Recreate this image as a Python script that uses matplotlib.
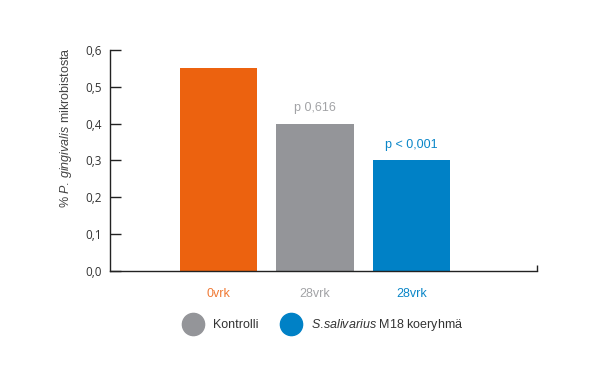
import matplotlib
matplotlib.use("Agg")
import matplotlib.pyplot as plt
from matplotlib.lines import Line2D

plt.rcParams['font.family'] = ['Liberation Sans', 'DejaVu Sans']
plt.rcParams['mathtext.fontset'] = 'custom'
plt.rcParams['mathtext.rm'] = 'Liberation Sans'
plt.rcParams['mathtext.it'] = 'Liberation Sans:italic'

categories = ["0vrk", "28vrk", "28vrk"]
values = [0.55, 0.40, 0.30]
bar_colors = ["#EC620F", "#949599", "#0081C6"]
label_colors = ["#F07A35", "#A2A3A6", "#0A86C8"]
p_labels = [None, "p 0,616", "p < 0,001"]
yticks = [0.0, 0.1, 0.2, 0.3, 0.4, 0.5, 0.6]
ytick_labels = ["0,0", "0,1", "0,2", "0,3", "0,4", "0,5", "0,6"]
legend_labels = ["Kontrolli", r"$\mathit{S.\!salivarius}$ M18 koeryhmä"]
legend_colors = ["#949599", "#0081C6"]

fig = plt.figure(figsize=(6, 3.78), dpi=100)
ax = fig.add_axes([0.1833, 0.2831, 0.7117, 0.5847])

x = list(range(len(values)))
ax.bar(x, values, width=0.8, color=bar_colors)
ax.set_xlim(-1.124, 3.30)
ax.set_ylim(0, 0.6)

for i, p in enumerate(p_labels):
    if p:
        ax.text(x[i], values[i] + 0.025, p, ha='center', va='bottom',
                fontsize=9, color=label_colors[i])

ax.set_yticks(yticks)
ax.set_yticklabels(ytick_labels, fontsize=8.5, color='#333333',
                   family=['Open Sans', 'DejaVu Sans'])
ax.tick_params(axis='y', direction='in', length=8, width=1, color='#222222', pad=6)
ax.set_xticks(x)
ax.set_xticklabels(categories, fontsize=9)
for lbl, c in zip(ax.get_xticklabels(), label_colors):
    lbl.set_color(c)
ax.tick_params(axis='x', length=0, pad=12)
ax.set_xticks([3.30], minor=True)
ax.tick_params(axis='x', which='minor', direction='in', length=4, width=1, color='#222222')

for s in ['top', 'right']:
    ax.spines[s].set_visible(False)
for s in ['left', 'bottom']:
    ax.spines[s].set_color('#222222')
    ax.spines[s].set_linewidth(1)

ax.set_ylabel(r"% $\mathit{P.\!\ gingivalis}$ mikrobistosta", fontsize=9,
              color='#444444')
ax.yaxis.set_label_coords(-0.085, 0.647)

handles = [Line2D([], [], marker='o', linestyle='', markersize=16,
                  markerfacecolor=c, markeredgecolor=c) for c in legend_colors]
fig.legend(handles, legend_labels, loc='center', bbox_to_anchor=(0.537, 0.14),
           ncol=2, frameon=False, fontsize=9, handletextpad=0.6,
           columnspacing=1.6, labelcolor='#333333')

fig.savefig("out.png", dpi=100)
